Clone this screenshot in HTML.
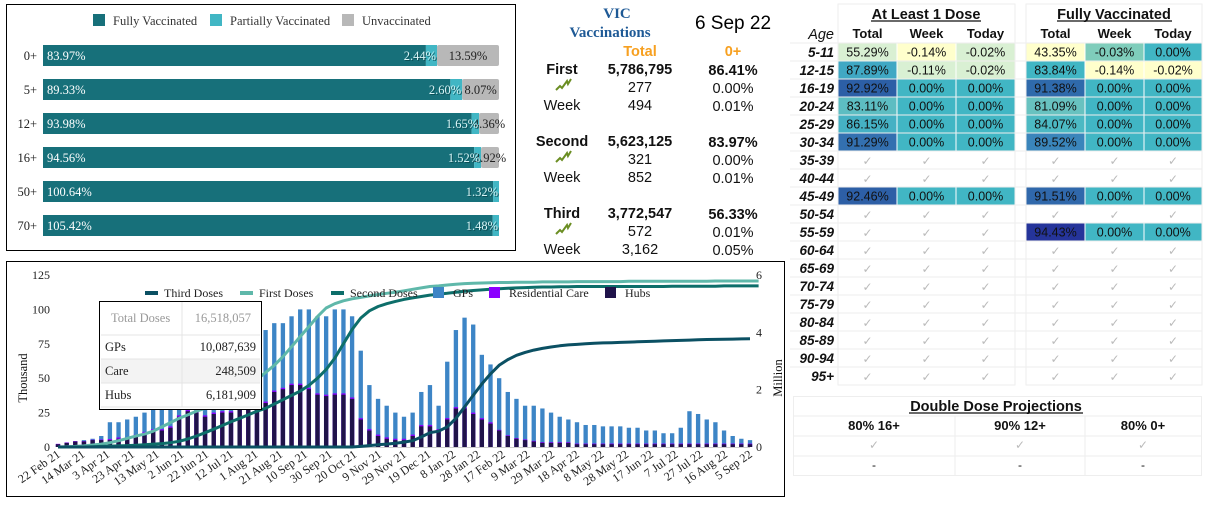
<!DOCTYPE html>
<html><head><meta charset="utf-8">
<style>
html,body{margin:0;padding:0;background:#fff;width:1209px;height:505px;overflow:hidden}
svg{display:block}
</style></head>
<body>
<svg id="s" width="1209" height="505" xmlns="http://www.w3.org/2000/svg"></svg>
<script>
// ---------- Top-left stacked bar data ----------
const ageGroups = ["0+","5+","12+","16+","50+","70+"];
const fullyVals = [83.97,89.33,93.98,94.56,100.64,105.42];
const partialVals = [2.44,2.60,1.65,1.52,1.32,1.48];
const unvaxVals = [13.59,8.07,4.36,3.92,0,0];

// ---------- Bottom chart data (weekly, from 22 Feb 21) ----------
const xTickLabels = ["22 Feb 21","14 Mar 21","3 Apr 21","23 Apr 21","13 May 21","2 Jun 21","22 Jun 21","12 Jul 21","1 Aug 21","21 Aug 21","10 Sep 21","30 Sep 21","20 Oct 21","9 Nov 21","29 Nov 21","19 Dec 21","8 Jan 22","28 Jan 22","17 Feb 22","9 Mar 22","29 Mar 22","18 Apr 22","8 May 22","28 May 22","17 Jun 22","7 Jul 22","27 Jul 22","16 Aug 22","5 Sep 22"];
const leftTicks = [0,25,50,75,100,125];
const rightTicks = [0,2,4,6];
const gpTotal = [2,3,4,5,6,8,18,18,20,22, 25,28,28,30,45,50,45,45,50,55, 60,65,70,80,85,90,90,95,100,100, 95,95,100,100,95,70,45,35,30,25, 22,25,40,45,30,62,85,94,89,67, 60,50,40,35,30,30,28,25,22,20, 18,16,16,15,15,15,14,14,12,12, 10,10,14,26,24,20,18,12,8,6, 5];
const hubsVals = [2,3,4,4,5,5,5,6,6,8, 10,12,12,14,22,26,25,22,24,25, 25,28,30,30,32,40,42,45,45,42, 38,37,38,38,35,20,12,8,6,5, 5,8,15,15,12,20,28,28,24,20, 17,12,8,6,5,4,3,3,3,3, 2,2,2,2,2,2,2,2,2,2, 2,2,2,2,2,2,2,2,2,2, 2];
const careVals = [0.3,0.3,0.3,0.3,0.3,0.5,0.8,1,1,1, 1,1,1,1,1,1,1,1,1,1, 1,1,1,1,1,1,1,1,1,1, 1,1,1,1,1,1,1,1,1,1, 1,1,1,1,1,1,1,1,1,1, 1,0.5,0.5,0.5,0.5,0.5,0.5,0.5,0.5,0.5, 0.5,0.5,0.5,0.5,0.5,0.5,0.5,0.5,0.5,0.5, 0.5,0.5,0.5,0.5,0.5,0.5,0.5,0.5,0.5,0.5, 0.5];
const firstCum = [0,0.01,0.02,0.04,0.07,0.1,0.15,0.22,0.3,0.38,0.45, 0.55,0.7,0.85,1.0,1.12,1.25,1.35,1.45,1.6,1.75, 1.95,2.15,2.35,2.6,2.85,3.15,3.5,3.85,4.2,4.55, 4.85,5.0,5.1,5.17,5.22,5.27,5.32,5.36,5.4,5.45, 5.5,5.55,5.6,5.62,5.65,5.68,5.7,5.71,5.72,5.73, 5.74,5.74,5.75,5.75,5.75,5.76,5.76,5.76,5.76,5.77, 5.77,5.77,5.77,5.77,5.77,5.78,5.78,5.78,5.78,5.78,5.78,5.78,5.78,5.78,5.78,5.79,5.79,5.79,5.79,5.79,5.79];
const secondCum = [0,0,0,0,0.01,0.02,0.03,0.04,0.05,0.06,0.08, 0.1,0.12,0.15,0.2,0.28,0.38,0.5,0.62,0.75,0.88, 1.0,1.12,1.25,1.35,1.5,1.65,1.8,1.95,2.15,2.4, 2.7,3.1,3.6,4.1,4.5,4.75,4.9,5.0,5.08,5.15, 5.2,5.25,5.3,5.33,5.36,5.4,5.43,5.46,5.48,5.5, 5.52,5.54,5.55,5.56,5.57,5.58,5.58,5.59,5.59,5.6, 5.6,5.6,5.6,5.6,5.6,5.6,5.6,5.6,5.6,5.6,5.61,5.61,5.61,5.61,5.61,5.61,5.62,5.62,5.62,5.62,5.62];
const thirdCum = [0,0,0,0,0,0,0,0,0,0, 0,0,0,0,0,0,0,0,0,0, 0,0,0,0,0,0,0,0,0,0, 0,0,0,0,0, 0.02,0.05,0.08,0.1,0.13,0.17,0.22,0.35,0.5,0.55, 0.7,1.0,1.4,1.8,2.2,2.55,2.85,3.05,3.2,3.3, 3.38,3.44,3.49,3.53,3.56,3.58,3.6,3.62,3.63,3.64, 3.65,3.66,3.67,3.68,3.69,3.7,3.71,3.72,3.73,3.74, 3.75,3.755,3.76,3.765,3.77,3.773];

// ---------- Table data ----------
const tableAges = ["5-11","12-15","16-19","20-24","25-29","30-34","35-39","40-44","45-49","50-54","55-59","60-64","65-69","70-74","75-79","80-84","85-89","90-94","95+"];
const tableCells = {
  "5-11":[["55.29%","#d9f0d3"],["-0.14%","#ffffcc"],["-0.02%","#d9f0d3"],["43.35%","#ffffcc"],["-0.03%","#7fcdbb"],["0.00%","#41b6c4"]],
  "12-15":[["87.89%","#40a8c4"],["-0.11%","#d9f0d3"],["-0.02%","#d9f0d3"],["83.84%","#41b6c4"],["-0.14%","#ffffcc"],["-0.02%","#ffffcc"]],
  "16-19":[["92.92%","#2c5fa6"],["0.00%","#41b6c4"],["0.00%","#41b6c4"],["91.38%","#2f6aab"],["0.00%","#41b6c4"],["0.00%","#41b6c4"]],
  "20-24":[["83.11%","#5dbdc2"],["0.00%","#41b6c4"],["0.00%","#41b6c4"],["81.09%","#68c2c0"],["0.00%","#41b6c4"],["0.00%","#41b6c4"]],
  "25-29":[["86.15%","#45b1c4"],["0.00%","#41b6c4"],["0.00%","#41b6c4"],["84.07%","#4cb9c3"],["0.00%","#41b6c4"],["0.00%","#41b6c4"]],
  "30-34":[["91.29%","#3370b0"],["0.00%","#41b6c4"],["0.00%","#41b6c4"],["89.52%","#3a85bb"],["0.00%","#41b6c4"],["0.00%","#41b6c4"]],
  "45-49":[["92.46%","#2d5fa6"],["0.00%","#41b6c4"],["0.00%","#41b6c4"],["91.51%","#3068ab"],["0.00%","#41b6c4"],["0.00%","#41b6c4"]],
  "55-59":[null,null,null,["94.43%","#25349a"],["0.00%","#41b6c4"],["0.00%","#41b6c4"]]
};

const NS="http://www.w3.org/2000/svg";
const svg=document.getElementById('s');
function mk(tag,attrs,parent,text){
  const e=document.createElementNS(NS,tag);
  for(const k in attrs)e.setAttribute(k,attrs[k]);
  if(text!==undefined)e.textContent=text;
  (parent||svg).appendChild(e);return e;
}
const SERIF='"Liberation Serif", serif';
const SANS='"Liberation Sans", sans-serif';

// ================= Top-left bar chart =================
let g=mk('g',{});


let r=mk('rect',{x:6.5,y:4.5,width:509,height:246,fill:'#fff',stroke:'#000','stroke-width':1},g);


const topLegend=[["Fully Vaccinated","#17707a",93],["Partially Vaccinated","#41b6c4",210],["Unvaccinated","#b8b8b8",342]];
topLegend.forEach(l=>{
  const lg=mk('g',{},g);
  
  
  mk('rect',{x:l[2],y:14,width:12,height:12,fill:l[1]},lg);
  mk('text',{x:l[2]+20,y:25,'font-family':SERIF,'font-size':12.5,fill:'#333'},lg,l[0]);
});
const bx0=43,bw=456,by0=45,bstep=34,bh=21;
ageGroups.forEach((a,i)=>{
  const y=by0+i*bstep;
  const sum=fullyVals[i]+partialVals[i]+unvaxVals[i];
  const w1=fullyVals[i]/sum*bw, w2=partialVals[i]/sum*bw, w3=unvaxVals[i]/sum*bw;
  let t=mk('text',{x:37,y:y+15,'text-anchor':'end','font-family':SERIF,'font-size':12.5,fill:'#222'},g,a);
  
  
  let b1=mk('rect',{x:bx0,y:y,width:w1,height:bh,fill:'#17707a'},g);
  
  
  let b2=mk('rect',{x:bx0+w1,y:y,width:w2,height:bh,fill:'#41b6c4'},g);
  
  
  if(w3>0){
    let b3=mk('rect',{x:bx0+w1+w2,y:y,width:w3,height:bh,fill:'#b8b8b8',rx:2},g);
    
    
    mk('text',{x:bx0+w1+w2+w3/2,y:y+15,'text-anchor':'middle','font-family':SERIF,'font-size':12.5,fill:'#222'},g,unvaxVals[i].toFixed(2)+'%');
  }
  mk('text',{x:bx0+4,y:y+15,'font-family':SERIF,'font-size':12.5,fill:'#fff'},g,fullyVals[i].toFixed(2)+'%');
  mk('text',{x:bx0+w1+w2,y:y+16,'text-anchor':'end','font-family':SERIF,'font-size':12.5,fill:'#0b4f56'},g,partialVals[i].toFixed(2)+'%');
  mk('text',{x:bx0+w1+w2-1,y:y+15,'text-anchor':'end','font-family':SERIF,'font-size':12.5,fill:'#d8f4f6'},g,partialVals[i].toFixed(2)+'%');
});

// ================= Middle stats =================
g=mk('g',{});


mk('text',{x:617,y:18,'text-anchor':'middle','font-family':SERIF,'font-size':15,'font-weight':'bold',fill:'#1f5a96'},g,'VIC');
mk('text',{x:610,y:37,'text-anchor':'middle','font-family':SERIF,'font-size':15,'font-weight':'bold',fill:'#1f5a96'},g,'Vaccinations');
let dt=mk('text',{x:733,y:29,'text-anchor':'middle','font-family':SANS,'font-size':19,fill:'#000'},g,'6 Sep 22');


mk('text',{x:640,y:56,'text-anchor':'middle','font-family':SANS,'font-size':14.5,'font-weight':'bold',fill:'#f7a020'},g,'Total');
mk('text',{x:733,y:56,'text-anchor':'middle','font-family':SANS,'font-size':14.5,'font-weight':'bold',fill:'#f7a020'},g,'0+');
const statNames=["First","Second","Third"];
const statTotals=["5,786,795","5,623,125","3,772,547"];
const statPct=["86.41%","83.97%","56.33%"];
const statDay=["277","321","572"];
const statDayPct=["0.00%","0.00%","0.01%"];
const statWeek=["494","852","3,162"];
const statWeekPct=["0.01%","0.01%","0.05%"];
statNames.forEach((n,i)=>{
  const y=74+i*72;
  const sg=mk('g',{},g);
  
  
  mk('text',{x:562,y:y,'text-anchor':'middle','font-family':SANS,'font-size':14.5,'font-weight':'bold',fill:'#111'},sg,n);
  mk('text',{x:640,y:y,'text-anchor':'middle','font-family':SANS,'font-size':14.5,'font-weight':'bold',fill:'#111'},sg,statTotals[i]);
  mk('text',{x:733,y:y+1,'text-anchor':'middle','font-family':SANS,'font-size':14.5,'font-weight':'bold',fill:'#111'},sg,statPct[i]);
  mk('path',{d:`M556 ${y+16} l4 -4 l2 2 l5 -7 l1 3 l3 -5`,fill:'none',stroke:'#6b8e23','stroke-width':2},sg);
  mk('text',{x:640,y:y+18,'text-anchor':'middle','font-family':SANS,'font-size':14.5,fill:'#111'},sg,statDay[i]);
  mk('text',{x:733,y:y+19,'text-anchor':'middle','font-family':SANS,'font-size':14.5,fill:'#111'},sg,statDayPct[i]);
  mk('text',{x:562,y:y+36,'text-anchor':'middle','font-family':SANS,'font-size':14.5,fill:'#111'},sg,'Week');
  mk('text',{x:640,y:y+36,'text-anchor':'middle','font-family':SANS,'font-size':14.5,fill:'#111'},sg,statWeek[i]);
  mk('text',{x:733,y:y+37,'text-anchor':'middle','font-family':SANS,'font-size':14.5,fill:'#111'},sg,statWeekPct[i]);
});

// ================= Right table =================
g=mk('g',{});


const colX=[838,897,956,1026,1085,1144], colW=[59,59,59,59,59,58];
mk('rect',{x:838,y:4,width:177,height:381,fill:'none',stroke:'#eee'},g);
mk('rect',{x:1026,y:4,width:176,height:381,fill:'none',stroke:'#eee'},g);
let h1=mk('text',{x:926,y:19,'text-anchor':'middle','font-family':SANS,'font-size':14.5,'font-weight':'bold',fill:'#111'},g,'At Least 1 Dose');


mk('line',{x1:871,x2:981,y1:21,y2:21,stroke:'#111','stroke-width':1.2},g);
let h2=mk('text',{x:1114,y:19,'text-anchor':'middle','font-family':SANS,'font-size':14.5,'font-weight':'bold',fill:'#111'},g,'Fully Vaccinated');


mk('line',{x1:1057,x2:1172,y1:21,y2:21,stroke:'#111','stroke-width':1.2},g);
mk('text',{x:834,y:39,'text-anchor':'end','font-family':SANS,'font-size':14.5,'font-style':'italic',fill:'#111'},g,'Age');
["Total","Week","Today","Total","Week","Today"].forEach((h,i)=>{
  mk('text',{x:colX[i]+colW[i]/2,y:38,'text-anchor':'middle','font-family':SANS,'font-size':13,'font-weight':'bold',fill:'#111'},g,h);
});
tableAges.forEach((a,ri)=>{
  const y=43+ri*18;
  const row=mk('g',{},g);
  
  
  mk('line',{x1:790,x2:1202,y1:y,y2:y,stroke:'#eee'},row);
  mk('text',{x:834,y:y+14,'text-anchor':'end','font-family':SANS,'font-size':13.5,'font-weight':'bold','font-style':'italic',fill:'#111'},row,a);
  const cells=tableCells[a]||[];
  for(let c=0;c<6;c++){
    const cell=cells[c];
    if(cell){
      mk('rect',{x:colX[c]+0.5,y:y+0.5,width:colW[c]-1,height:17,fill:cell[1]},row);
      mk('text',{x:colX[c]+colW[c]/2,y:y+13.5,'text-anchor':'middle','font-family':SANS,'font-size':12.5,fill:'#111'},row,cell[0]);
    }else{
      mk('text',{x:colX[c]+colW[c]/2,y:y+14,'text-anchor':'middle','font-family':SANS,'font-size':12,fill:'#bbb'},row,'✓');
    }
  }
});

// Projections
g=mk('g',{});


mk('rect',{x:793.5,y:396.5,width:408,height:79,fill:'none',stroke:'#eee'},g);
mk('text',{x:996,y:411,'text-anchor':'middle','font-family':SANS,'font-size':14.5,'font-weight':'bold',fill:'#111'},g,'Double Dose Projections');
mk('line',{x1:909,x2:1083,y1:413,y2:413,stroke:'#111','stroke-width':1.2},g);
const projH=["80% 16+","90% 12+","80% 0+"], projC=[874,1020,1143];
projH.forEach((p,i)=>{
  mk('text',{x:projC[i],y:430,'text-anchor':'middle','font-family':SANS,'font-size':13,'font-weight':'bold',fill:'#111'},g,p);
  mk('text',{x:projC[i],y:449,'text-anchor':'middle','font-family':SANS,'font-size':12,fill:'#bbb'},g,'✓');
  mk('text',{x:projC[i],y:469,'text-anchor':'middle','font-family':SANS,'font-size':12,fill:'#111'},g,'-');
});
[416,436,456].forEach(y=>mk('line',{x1:794,x2:1202,y1:y,y2:y,stroke:'#eee'},g));
[955,1085].forEach(x=>mk('line',{x1:x,x2:x,y1:416,y2:475,stroke:'#eee'},g));

// ================= Bottom chart =================
g=mk('g',{});


r=mk('rect',{x:6.5,y:261.5,width:778,height:235,fill:'#fff',stroke:'#000','stroke-width':1},g);


const X0=58,X1=750,DAYS=560,Y0=447,YTOP=275;
const xs=d=>X0+d*(X1-X0)/DAYS;
const yL=v=>Y0-v*(Y0-YTOP)/125;
const yR=m=>Y0-m*(Y0-YTOP)/6;
leftTicks.forEach(v=>{
  let t=mk('text',{x:50,y:yL(v)+4,'text-anchor':'end','font-family':SERIF,'font-size':12,fill:'#222'},g,String(v));
  
  
});
rightTicks.forEach(v=>{
  let t=mk('text',{x:756,y:yR(v)+4,'font-family':SERIF,'font-size':12,fill:'#222'},g,String(v));
  
  
});
let yt=mk('text',{transform:'translate(27,378) rotate(-90)','text-anchor':'middle','font-family':SERIF,'font-size':12.5,fill:'#111'},g,'Thousand');


yt=mk('text',{transform:'translate(782,378) rotate(-90)','text-anchor':'middle','font-family':SERIF,'font-size':12.5,fill:'#111'},g,'Million');


xTickLabels.forEach((l,i)=>{
  const x=xs(i*20);
  let t=mk('text',{transform:`translate(${x+3},${456}) rotate(-35)`,'text-anchor':'end','font-family':SERIF,'font-size':12,fill:'#222'},g,l);
  
  
});
mk('line',{x1:X0,x2:X1,y1:Y0+0.5,y2:Y0+0.5,stroke:'#ccc'},g);
const wpx=(X1-X0)/DAYS*7;
gpTotal.forEach((v,i)=>{
  const w=wpx*0.5;
  const x=xs(i*7)-w/2;
  let b=mk('rect',{x:x,y:yL(v),width:w,height:Y0-yL(v),fill:'#3d85c6'},g);
  
  
  const hv=hubsVals[i], cv=careVals[i];
  let c=mk('rect',{x:x,y:yL(hv+cv),width:w,height:Y0-yL(hv+cv),fill:'#8b00ff'},g);
  
  
  let h=mk('rect',{x:x,y:yL(hv),width:w,height:Y0-yL(hv),fill:'#20134a'},g);
  
  
});
function line(arr,color,name){
  const d=arr.map((v,i)=>(i?'L':'M')+xs(i*7).toFixed(1)+' '+yR(v).toFixed(1)).join(' ');
  let p=mk('path',{d:d,fill:'none',stroke:color,'stroke-width':3,'stroke-linejoin':'round'},g);
  
  
}
line(firstCum,'#5fb8aa','line-first-doses');
line(secondCum,'#0d6e6a','line-second-doses');
line(thirdCum,'#0b5063','line-third-doses');
// legend
const legL=[["Third Doses","#0b5063",145,'line'],["First Doses","#5fb8aa",240,'line'],["Second Doses","#0d6e6a",331,'line'],["GPs","#3d85c6",433,'sq'],["Residential Care","#8b00ff",489,'sq'],["Hubs","#20134a",605,'sq']];
legL.forEach(l=>{
  const lg=mk('g',{},g);
  
  
  if(l[3]==='line')mk('rect',{x:l[2],y:291,width:13,height:4,fill:l[1]},lg);
  else mk('rect',{x:l[2],y:287,width:11,height:11,fill:l[1]},lg);
  mk('text',{x:l[2]+(l[3]==='line'?19:20),y:297,'font-family':SERIF,'font-size':12,fill:'#222'},lg,l[0]);
});
// tooltip table
const tt=mk('g',{},g);


mk('rect',{x:99.5,y:301.5,width:162,height:108,fill:'#fff',stroke:'#000'},tt);
mk('rect',{x:101,y:359,width:159,height:24,fill:'#f3f3f3'},tt);
[335,359,383,407].forEach(y=>mk('line',{x1:101,x2:260,y1:y,y2:y,stroke:'#e4e4e4'},tt));
mk('line',{x1:182,x2:182,y1:302,y2:407,stroke:'#e4e4e4'},tt);
const ttLab=["Total Doses","GPs","Care","Hubs"], ttVal=["16,518,057","10,087,639","248,509","6,181,909"], ttY=[322,351,375,399];
ttLab.forEach((l,i)=>{
  mk('text',{x:i?105:111,y:ttY[i],'font-family':SERIF,'font-size':12.5,fill:i?'#222':'#999'},tt,l);
  mk('text',{x:i?256:251,y:ttY[i],'text-anchor':'end','font-family':SERIF,'font-size':12.5,fill:i?'#222':'#999'},tt,ttVal[i]);
});
</script>
</body></html>
